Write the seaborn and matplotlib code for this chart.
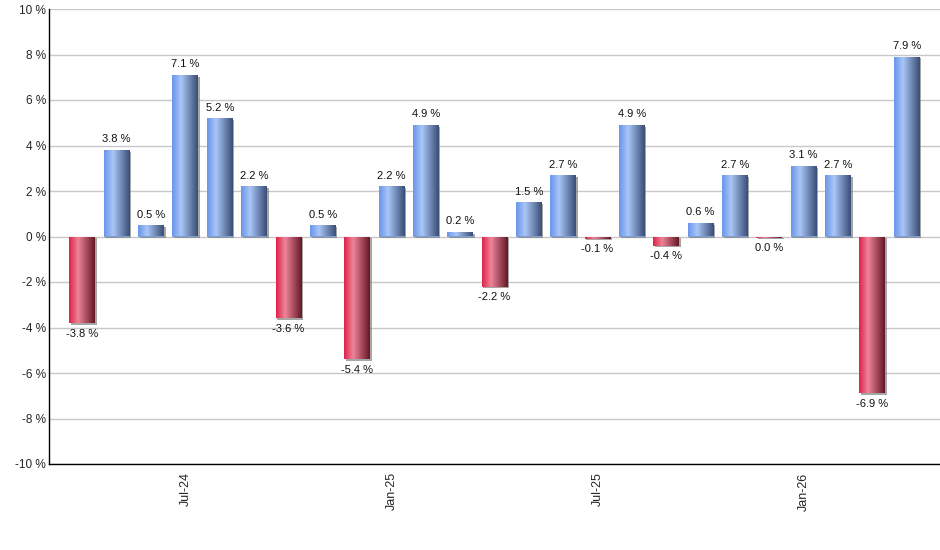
import numpy as np
import pandas as pd
import matplotlib
matplotlib.use("Agg")
import matplotlib.pyplot as plt
import matplotlib.patheffects as pe
from matplotlib.colors import LinearSegmentedColormap
import seaborn as sns

# Monthly returns, Apr-24 .. Apr-26
months = ["Apr-24", "May-24", "Jun-24", "Jul-24", "Aug-24", "Sep-24", "Oct-24",
          "Nov-24", "Dec-24", "Jan-25", "Feb-25", "Mar-25", "Apr-25", "May-25",
          "Jun-25", "Jul-25", "Aug-25", "Sep-25", "Oct-25", "Nov-25", "Dec-25",
          "Jan-26", "Feb-26", "Mar-26", "Apr-26"]
returns = [-3.8, 3.8, 0.5, 7.1, 5.2, 2.2, -3.6, 0.5, -5.4, 2.2, 4.9, 0.2, -2.2,
           1.5, 2.7, -0.1, 4.9, -0.4, 0.6, 2.7, -0.049, 3.1, 2.7, -6.9, 7.9]
tick_months = ["Jul-24", "Jan-25", "Jul-25", "Jan-26"]
y_ticks = [-10, -8, -6, -4, -2, 0, 2, 4, 6, 8, 10]

df = pd.DataFrame({"month": months, "ret": returns})
df["sign"] = np.where(df["ret"] < 0, "neg", "pos")

sns.set_style("white")
plt.rcParams["font.family"] = ["Liberation Sans", "DejaVu Sans"]

fig = plt.figure(figsize=(9.4, 5.5), dpi=100)
ax = fig.add_axes([49 / 940, 1 - 464 / 550, 891 / 940, 455 / 550])

sns.barplot(data=df, x="month", y="ret", hue="sign", order=months,
            palette={"pos": "#6f98e4", "neg": "#d82a50"}, dodge=False,
            legend=False, width=0.75, ax=ax, zorder=3, linewidth=0)

# gradient fills like the original 3D-ish bars
blue_cmap = LinearSegmentedColormap.from_list(
    "b", [(0, "#6a96ea"), (0.35, "#a9c6f7"), (1, "#3a4e76")])
red_cmap = LinearSegmentedColormap.from_list(
    "r", [(0, "#df2349"), (0.35, "#ee8499"), (1, "#661727")])
grad = np.linspace(0, 1, 64).reshape(1, -1)

for p in list(ax.patches):
    w = p.get_width()
    h = p.get_height()
    if w <= 0:
        continue
    x0 = p.get_x()
    y0 = p.get_y()
    cmap = red_cmap if h < 0 else blue_cmap
    p.set_path_effects([pe.SimplePatchShadow(offset=(1.2, -1.2), shadow_rgbFace="#808080", alpha=0.7),
                        pe.Normal()])
    im = ax.imshow(grad, cmap=cmap, aspect="auto",
                   extent=(x0, x0 + w, min(y0, y0 + h), max(y0, y0 + h)),
                   zorder=4, interpolation="bilinear")
    im.set_clip_path(p)

# value labels
for i, v in enumerate(returns):
    txt = f"{v:.1f} %".replace("-0.0", "0.0")
    if v >= 0:
        ax.annotate(txt, (i, v), xytext=(0, 4), textcoords="offset points",
                    ha="center", va="bottom", fontsize=8, color="#111111")
    else:
        ax.annotate(txt, (i, v), xytext=(0, -4), textcoords="offset points",
                    ha="center", va="top", fontsize=8, color="#111111")

ax.set_xlim(-0.97, 24.97)
ax.set_ylim(-10, 10)
ax.set_yticks(y_ticks)
ax.set_yticklabels([f"{t} %" for t in y_ticks], fontsize=8.5)
ax.set_xticks([months.index(m) for m in tick_months])
ax.set_xticklabels(tick_months, rotation=90, fontsize=9)
ax.set_xlabel("")
ax.set_ylabel("")

ax.grid(axis="y", color="#c8c8c8", linewidth=1, zorder=0)
ax.set_axisbelow(True)
for s in ["top", "right"]:
    ax.spines[s].set_visible(False)
for s in ["left", "bottom"]:
    ax.spines[s].set_color("black")
    ax.spines[s].set_linewidth(1)
ax.tick_params(axis="x", length=4, width=1, color="black", pad=2)
ax.tick_params(axis="y", length=0, pad=2)

fig.savefig("out.png", dpi=100)
